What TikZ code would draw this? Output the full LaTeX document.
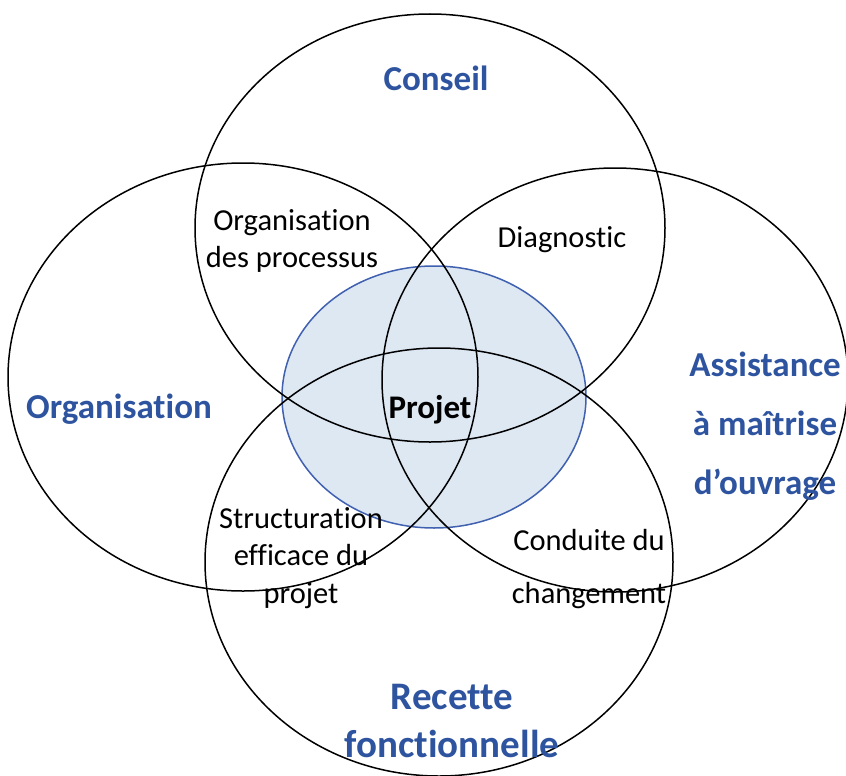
\documentclass[tikz,border=0pt]{standalone}
\usepackage{fontspec}
\setmainfont[Ligatures={NoCommon}]{Carlito}
\definecolor{lblblue}{RGB}{46,84,160}
\definecolor{projfill}{RGB}{221,232,243}
\definecolor{projline}{RGB}{64,96,176}
\begin{document}
\begin{tikzpicture}[x=1pt,y=-1pt,
  ring/.style={draw=black,line width=1.5pt},
  biglbl/.style={text=lblblue,font=\bfseries\fontsize{35}{59}\selectfont,align=center,inner sep=0pt},
  smalllbl/.style={text=black,font=\fontsize{30.5}{37.5}\selectfont,align=center,inner sep=0pt}]
\useasboundingbox (0,0) rectangle (846,776);
\fill[white] (0,0) rectangle (846,776);
% central project ellipse
\draw[fill=projfill,draw=projline,line width=1.5pt] (434,397) ellipse [x radius=152, y radius=131];
% four rings
\draw[ring] (430,228) ellipse [x radius=235, y radius=214];
\draw[ring] (243,377) ellipse [x radius=235, y radius=214];
\draw[ring] (615,380) ellipse [x radius=233, y radius=212];
\draw[ring] (439,562) ellipse [x radius=234, y radius=214];
% labels
\node[biglbl] (conseil) at (436,78) {Conseil};
\node[biglbl] (orga) at (119,409) {Organisation};
\node[biglbl] (amoa) at (765,426) {Assistance\\à maîtrise\\d’ouvrage};
\node[biglbl,font=\bfseries\fontsize{39}{48}\selectfont] (recette) at (452,721) {Recette\\fonctionnelle};
\node[text=black,font=\bfseries\fontsize{33}{40}\selectfont,inner sep=0pt] (projet) at (430,410) {Projet};
\node[smalllbl] (orgproc) at (292,241) {Organisation\\des processus};
\node[smalllbl] (diag) at (562,240) {Diagnostic};
\node[smalllbl] (struct) at (301,558) {Structuration\\efficace du\\projet};
\node[smalllbl,font=\fontsize{30.5}{53}\selectfont] (conduite) at (589,569) {Conduite du\\changement};
\end{tikzpicture}
\end{document}
